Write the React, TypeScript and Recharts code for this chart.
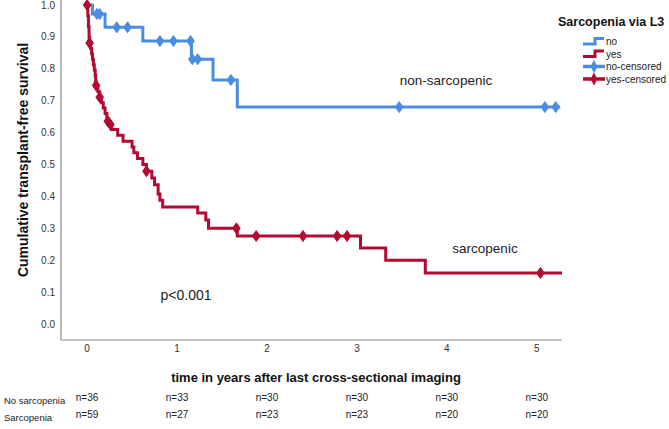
import React from 'react';
import { ComposedChart, Line, Scatter, XAxis, YAxis } from 'recharts';

const timeTicks = [0, 1, 2, 3, 4, 5];
const survivalTicks = [0, 0.1, 0.2, 0.3, 0.4, 0.5, 0.6, 0.7, 0.8, 0.9, 1.0];

// Kaplan-Meier step curves (time in years, cumulative survival)
const noSarcopeniaCurve = [
  { t: 0, s: 1.0 },
  { t: 0.06, s: 0.972 },
  { t: 0.2, s: 0.93 },
  { t: 0.62, s: 0.887 },
  { t: 1.16, s: 0.83 },
  { t: 1.4, s: 0.765 },
  { t: 1.67, s: 0.68 },
  { t: 5.26, s: 0.68 },
];

const sarcopeniaCurve = [
  { t: 0, s: 1.0 },
  { t: 0.008, s: 0.966 },
  { t: 0.015, s: 0.932 },
  { t: 0.022, s: 0.898 },
  { t: 0.028, s: 0.881 },
  { t: 0.04, s: 0.864 },
  { t: 0.05, s: 0.847 },
  { t: 0.06, s: 0.83 },
  { t: 0.07, s: 0.813 },
  { t: 0.08, s: 0.796 },
  { t: 0.09, s: 0.779 },
  { t: 0.095, s: 0.762 },
  { t: 0.1, s: 0.748 },
  { t: 0.12, s: 0.728 },
  { t: 0.14, s: 0.711 },
  { t: 0.16, s: 0.694 },
  { t: 0.18, s: 0.677 },
  { t: 0.2, s: 0.66 },
  { t: 0.22, s: 0.643 },
  { t: 0.24, s: 0.628 },
  { t: 0.27, s: 0.61 },
  { t: 0.34, s: 0.592 },
  { t: 0.4, s: 0.573 },
  { t: 0.5, s: 0.555 },
  { t: 0.52, s: 0.537 },
  { t: 0.56, s: 0.519 },
  { t: 0.62, s: 0.5 },
  { t: 0.66, s: 0.479 },
  { t: 0.72, s: 0.458 },
  { t: 0.75, s: 0.437 },
  { t: 0.79, s: 0.408 },
  { t: 0.81, s: 0.388 },
  { t: 0.84, s: 0.367 },
  { t: 1.23, s: 0.348 },
  { t: 1.32, s: 0.326 },
  { t: 1.35, s: 0.3 },
  { t: 1.67, s: 0.276 },
  { t: 3.04, s: 0.238 },
  { t: 3.32, s: 0.2 },
  { t: 3.76, s: 0.16 },
  { t: 5.28, s: 0.16 },
];

const noSarcopeniaCensored = [
  { t: 0.11, s: 0.972 },
  { t: 0.14, s: 0.972 },
  { t: 0.33, s: 0.93 },
  { t: 0.45, s: 0.93 },
  { t: 0.81, s: 0.887 },
  { t: 0.96, s: 0.887 },
  { t: 1.15, s: 0.887 },
  { t: 1.17, s: 0.83 },
  { t: 1.23, s: 0.83 },
  { t: 1.6, s: 0.765 },
  { t: 3.47, s: 0.68 },
  { t: 5.09, s: 0.68 },
  { t: 5.21, s: 0.68 },
];

const sarcopeniaCensored = [
  { t: 0, s: 1.0 },
  { t: 0.028, s: 0.881 },
  { t: 0.1, s: 0.748 },
  { t: 0.14, s: 0.711 },
  { t: 0.23, s: 0.636 },
  { t: 0.26, s: 0.625 },
  { t: 0.66, s: 0.479 },
  { t: 1.66, s: 0.3 },
  { t: 1.88, s: 0.276 },
  { t: 2.4, s: 0.276 },
  { t: 2.78, s: 0.276 },
  { t: 2.89, s: 0.276 },
  { t: 5.04, s: 0.16 },
];

const atRiskNoSarcopenia = [36, 33, 30, 30, 30, 30];
const atRiskSarcopenia = [59, 27, 23, 23, 20, 20];

const BLUE = '#4a8de0';
const RED = '#b30a32';
const FONT = '"Liberation Sans", Arial, sans-serif';
const X_DOMAIN: [number, number] = [-0.29, 5.28];

const censorShape = (color: string) => (props: any) => {
  const { cx, cy } = props;
  if (cx == null || cy == null) return <g />;
  return (
    <path
      d={`M${cx},${cy - 5.5} L${cx + 3.8},${cy} L${cx},${cy + 5.5} L${cx - 3.8},${cy} Z`}
      fill={color}
      stroke={color}
      strokeWidth={1}
    />
  );
};

const riskFormatter = (arr: number[]) => (v: number) => {
  const i = timeTicks.indexOf(Math.round(v));
  return i >= 0 ? `n=${arr[i]}` : '';
};

export default function App() {
  return (
    <div style={{ position: 'absolute', left: 0, top: 0, width: 669, height: 429, background: '#fff' }}>
      <ComposedChart
        width={669}
        height={429}
        margin={{ top: 0, right: 107, bottom: 7, left: 0 }}
      >
        <XAxis
          xAxisId="main"
          dataKey="t"
          type="number"
          domain={X_DOMAIN}
          ticks={timeTicks}
          allowDataOverflow
          height={48}
          tickSize={0}
          tickMargin={5}
          tickLine={false}
          axisLine={{ stroke: '#8a8a8a', strokeWidth: 1.2 }}
          tick={{ fontSize: 10, fill: '#333', fontFamily: FONT }}
        />
        <XAxis
          xAxisId="riskNo"
          dataKey="t"
          type="number"
          domain={X_DOMAIN}
          ticks={timeTicks}
          allowDataOverflow
          height={17}
          tickSize={0}
          tickMargin={6}
          tickLine={false}
          axisLine={false}
          tickFormatter={riskFormatter(atRiskNoSarcopenia)}
          tick={{ fontSize: 10, fill: '#222', fontFamily: FONT }}
        />
        <XAxis
          xAxisId="riskYes"
          dataKey="t"
          type="number"
          domain={X_DOMAIN}
          ticks={timeTicks}
          allowDataOverflow
          height={17}
          tickSize={0}
          tickMargin={6}
          tickLine={false}
          axisLine={false}
          tickFormatter={riskFormatter(atRiskSarcopenia)}
          tick={{ fontSize: 10, fill: '#222', fontFamily: FONT }}
        />
        <YAxis
          dataKey="s"
          type="number"
          domain={[-0.05, 1.0157]}
          ticks={survivalTicks}
          allowDataOverflow
          width={61}
          tickSize={0}
          tickMargin={6}
          tickLine={false}
          axisLine={{ stroke: '#8a8a8a', strokeWidth: 1.2 }}
          tickFormatter={(v: number) => v.toFixed(1)}
          tick={{ fontSize: 10, fill: '#333', fontFamily: FONT }}
        />
        <Line
          xAxisId="riskNo"
          data={noSarcopeniaCurve}
          dataKey="s"
          stroke="none"
          dot={false}
          activeDot={false}
          isAnimationActive={false}
          legendType="none"
        />
        <Line
          xAxisId="riskYes"
          data={sarcopeniaCurve}
          dataKey="s"
          stroke="none"
          dot={false}
          activeDot={false}
          isAnimationActive={false}
          legendType="none"
        />
        <Line
          xAxisId="main"
          data={noSarcopeniaCurve}
          dataKey="s"
          type="stepAfter"
          stroke={BLUE}
          strokeWidth={3}
          dot={false}
          activeDot={false}
          isAnimationActive={false}
        />
        <Scatter
          xAxisId="main"
          data={noSarcopeniaCensored}
          dataKey="s"
          shape={censorShape(BLUE)}
          isAnimationActive={false}
        />
        <Line
          xAxisId="main"
          data={sarcopeniaCurve}
          dataKey="s"
          type="stepAfter"
          stroke={RED}
          strokeWidth={3}
          dot={false}
          activeDot={false}
          isAnimationActive={false}
        />
        <Scatter
          xAxisId="main"
          data={sarcopeniaCensored}
          dataKey="s"
          shape={censorShape(RED)}
          isAnimationActive={false}
        />
      </ComposedChart>
      <svg
        width={669}
        height={429}
        style={{ position: 'absolute', left: 0, top: 0, pointerEvents: 'none' }}
        fontFamily={FONT}
      >
        <text
          x={23}
          y={160}
          transform="rotate(-90 23 160)"
          textAnchor="middle"
          dominantBaseline="central"
          fontSize={14}
          fontWeight="bold"
          fill="#111"
        >
          Cumulative transplant-free survival
        </text>
        <text x={316} y={377} textAnchor="middle" dominantBaseline="central" fontSize={13} fontWeight="bold" fill="#111">
          time in years after last cross-sectional imaging
        </text>
        <text x={4} y={400} dominantBaseline="central" fontSize={9.5} fill="#222">No sarcopenia</text>
        <text x={4} y={417} dominantBaseline="central" fontSize={9.5} fill="#222">Sarcopenia</text>
        <text x={446} y={80} textAnchor="middle" dominantBaseline="central" fontSize={13.5} fill="#222">non-sarcopenic</text>
        <text x={485} y={248} textAnchor="middle" dominantBaseline="central" fontSize={13.5} fill="#222">sarcopenic</text>
        <text x={186} y={295} textAnchor="middle" dominantBaseline="central" fontSize={14} fill="#222">p&lt;0.001</text>
        <text x={558} y={26} fontSize={12.5} fontWeight="bold" fill="#111">Sarcopenia via L3</text>
        <path d="M583,44 L595,44 L595,38.5 L604,38.5" fill="none" stroke={BLUE} strokeWidth={3} />
        <text x={606} y={41.5} dominantBaseline="central" fontSize={10} fill="#222">no</text>
        <path d="M583,56.5 L595,56.5 L595,51 L604,51" fill="none" stroke={RED} strokeWidth={3} />
        <text x={606} y={54} dominantBaseline="central" fontSize={10} fill="#222">yes</text>
        <path d="M583,66.5 L605,66.5" stroke={BLUE} strokeWidth={3.5} />
        <path d="M594,61.5 L596.5,66.5 L594,71.5 L591.5,66.5 Z" fill={BLUE} stroke={BLUE} strokeWidth={1.5} />
        <text x={606} y={66.5} dominantBaseline="central" fontSize={10} fill="#222">no-censored</text>
        <path d="M583,79 L605,79" stroke={RED} strokeWidth={3.5} />
        <path d="M594,74 L596.5,79 L594,84 L591.5,79 Z" fill={RED} stroke={RED} strokeWidth={1.5} />
        <text x={606} y={79} dominantBaseline="central" fontSize={10} fill="#222">yes-censored</text>
      </svg>
    </div>
  );
}
